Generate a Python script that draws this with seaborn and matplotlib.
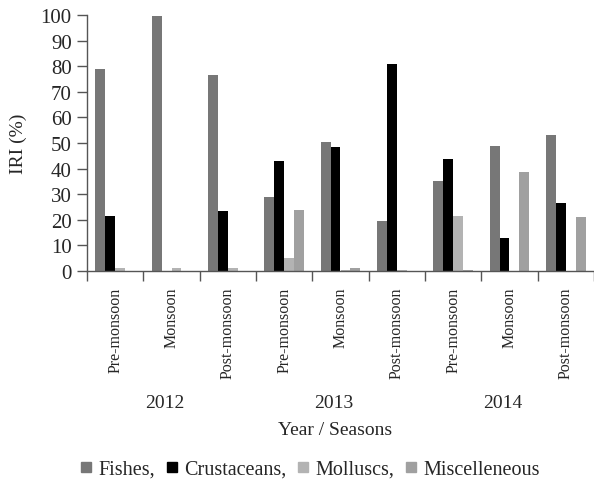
import pandas as pd
import matplotlib.pyplot as plt
import seaborn as sns
from matplotlib.lines import Line2D

# data
years = ['2012', '2013', '2014']
seasons = ['Pre-monsoon', 'Monsoon', 'Post-monsoon']
groups = ['Fishes', 'Crustaceans', 'Molluscs', 'Miscelleneous']
fishes = [78.8, 99.5, 76.5, 29.1, 50.3, 19.6, 35.2, 49.0, 53.3]
crustaceans = [21.4, 0.0, 23.5, 42.8, 48.6, 80.8, 43.8, 13.0, 26.6]
molluscs = [1.0, 1.3, 1.0, 5.2, 0.3, 0.3, 21.3, 0.0, 0.0]
miscellaneous = [0.0, 0.0, 0.0, 24.0, 1.3, 0.0, 0.3, 38.6, 20.9]
colors = ['#777777', '#000000', '#b3b3b3', '#a0a0a0']

periods = [y + ' ' + s for y in years for s in seasons]
df = pd.DataFrame({
    'Period': periods * 4,
    'Group': [g for g in groups for _ in periods],
    'IRI': fishes + crustaceans + molluscs + miscellaneous,
})

sns.set_style("ticks")
plt.rcParams['font.family'] = ['Liberation Serif', 'DejaVu Serif']

fig = plt.figure(figsize=(5.94, 4.81), dpi=100)
ax = fig.add_axes([87 / 594, 1 - 272 / 481, 507 / 594, 256 / 481])

sns.barplot(data=df, x='Period', y='IRI', hue='Group', palette=colors,
            saturation=1, width=0.71, ax=ax, legend=False, linewidth=0)

ax.set_ylim(0, 100)
ax.set_xlim(-0.5, len(periods) - 0.5)
ax.set_yticks(range(0, 101, 10))
ax.tick_params(axis='y', labelsize=15, length=7, width=1, color='#555555', pad=4)

ax.set_xticks(range(len(periods)))
ax.set_xticklabels([s for _ in years for s in seasons], rotation=90, fontsize=11.5,
                   va='top')
ax.tick_params(axis='x', which='major', length=0, pad=11.5)
ax.set_xticks([i - 0.5 for i in range(len(periods) + 1)], minor=True)
ax.tick_params(axis='x', which='minor', length=7, width=1, color='#555555')

sns.despine(ax=ax)
for sp in ['left', 'bottom']:
    ax.spines[sp].set_color('#555555')
    ax.spines[sp].set_linewidth(1)

# year labels under each block of seasons
for i, y in enumerate(years):
    ax.annotate(y, xy=(3 * i + 0.88, -0.531), xycoords=('data', 'axes fraction'),
                ha='center', va='baseline', fontsize=14)

ax.set_xlabel('Year / Seasons', fontsize=14)
ax.xaxis.set_label_coords(0.49, -0.585)
ax.set_ylabel('IRI (%)', fontsize=14)
ax.yaxis.set_label_coords(-0.118, 0.5)

handles = [Line2D([], [], marker='s', linestyle='none', markersize=6.5,
                  markerfacecolor=c, markeredgecolor=c) for c in colors]
labels = [g + ',' for g in groups[:-1]] + [groups[-1]]
fig.legend(handles, labels, loc='center', bbox_to_anchor=(0.522, 1 - 470 / 481),
           ncol=4, frameon=False, fontsize=14.5, handlelength=0.6,
           handletextpad=0.3, columnspacing=0.55)

fig.savefig('out.png', dpi=100)
